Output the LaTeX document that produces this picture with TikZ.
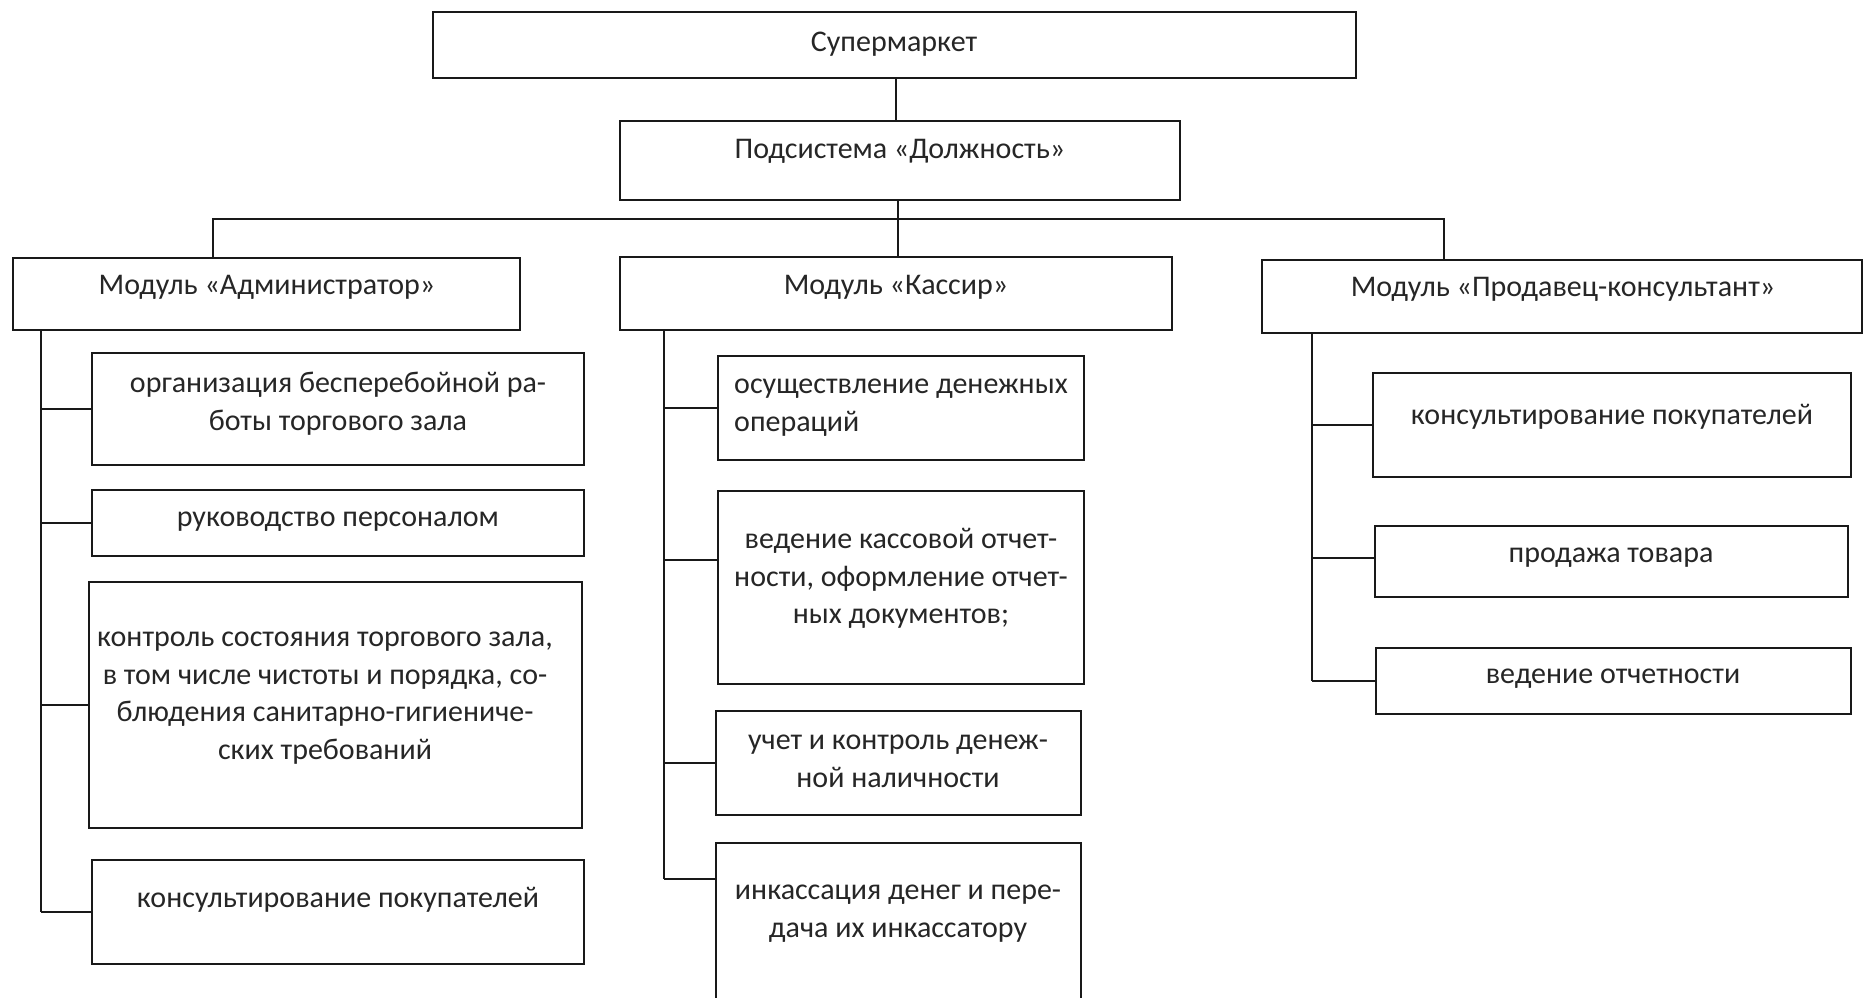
\documentclass[tikz,border=0pt]{standalone}
\usepackage{fontspec}
\setmainfont{Carlito}
\begin{document}
\begin{tikzpicture}[x=1pt,y=-1pt,
  blk/.style={draw=black!90, line width=2pt, rectangle, inner sep=0pt, fill=white},
  ln/.style={draw=black!90, line width=2pt},
  lbl/.style={font=\fontsize{30}{37.5}\selectfont, align=center, inner sep=0pt,
              text=black!85}]
% box: name, x1, y1, x2, y2 (pixels, y downwards)
\newcommand\mkbox[5]{\node[blk, minimum width={(#4-#2)*1pt}, minimum height={(#5-#3)*1pt}]
  (#1) at ({(#2+#4)/2},{(#3+#5)/2}) {};}
% label: name, centre x, x-height centre of first line, text
\newcommand\mktext[4]{\node[lbl, anchor=north] (#1) at ({#2},{#3-16.5}) {\strut#4};}

\useasboundingbox (0,0) rectangle (1865,997);
\fill[white] (0,0) rectangle (1865,997);
\begin{scope}
\clip (0,0) rectangle (1865,997);

% top levels
\mkbox{super}{433}{12}{1356}{78}
\mkbox{sub}{620}{121}{1180}{200}
\mkbox{mA}{13}{258}{520}{330}
\mkbox{mK}{620}{257}{1172}{330}
\mkbox{mP}{1262}{260}{1862}{333}

% administrator column
\mkbox{a1}{92}{353}{584}{465}
\mkbox{a2}{92}{490}{584}{556}
\mkbox{a3}{89}{582}{582}{828}
\mkbox{a4}{92}{860}{584}{964}

% cashier column
\mkbox{k1}{718}{356}{1084}{460}
\mkbox{k2}{718}{491}{1084}{684}
\mkbox{k3}{716}{711}{1081}{815}
\mkbox{k4}{716}{843}{1081}{1010}

% sales consultant column
\mkbox{p1}{1373}{373}{1851}{477}
\mkbox{p2}{1375}{526}{1848}{597}
\mkbox{p3}{1376}{648}{1851}{714}

% texts
\mktext{super-t}{894}{42}{Супермаркет}
\mktext{sub-t}{900}{149}{Подсистема «Должность»}
\mktext{mA-t}{267}{285}{Модуль «Администратор»}
\mktext{mK-t}{896}{285}{Модуль «Кассир»}
\mktext{mP-t}{1563}{287}{Модуль «Продавец-консультант»}

\mktext{a1-t}{338}{383}{организация бесперебойной ра-\\боты торгового зала}
\mktext{a2-t}{338}{517}{руководство персоналом}
\mktext{a3-t}{325}{637}{контроль состояния торгового зала,\\в том числе чистоты и порядка, со-\\блюдения санитарно-гигиениче-\\ских требований}
\mktext{a4-t}{338}{898}{консультирование покупателей}

\node[lbl, anchor=north west, align=left] (k1-t) at (734,{384-16.5})
  {\strut осуществление денежных\\операций};
\mktext{k2-t}{901}{539}{ведение кассовой отчет-\\ности, оформление отчет-\\ных документов;}
\mktext{k3-t}{898}{740}{учет и контроль денеж-\\ной наличности}
\mktext{k4-t}{898}{890}{инкассация денег и пере-\\дача их инкассатору}

\mktext{p1-t}{1612}{415}{консультирование покупателей}
\mktext{p2-t}{1611}{553}{продажа товара}
\mktext{p3-t}{1613}{674}{ведение отчетности}

% trunks and joints
\coordinate (c1) at (896,0);
\coordinate (c2) at (898,0);
\coordinate (bl) at (213,219);
\coordinate (br) at (1444,219);
\coordinate (tA) at (41,0);
\coordinate (tK) at (664,0);
\coordinate (tP) at (1312,0);
\coordinate (k2j) at (664,560);
\coordinate (k4j) at (664,879);
\coordinate (p2j) at (1312,558);

\draw[ln] (c1 |- super.south) -- (c1 |- sub.north);
\draw[ln] (c2 |- sub.south) -- (c2 |- mK.north);
\draw[ln] (bl |- mA.north) -- (bl) -- (br) -- (br |- mP.north);

% administrator branches
\draw[ln] (tA |- mA.south) -- (tA |- a4.west);
\foreach \c in {a1,a2,a3,a4} \draw[ln] (tA |- \c.west) -- (\c.west);

% cashier branches
\draw[ln] (tK |- mK.south) -- (k4j);
\draw[ln] (tK |- k1.west) -- (k1.west);
\draw[ln] (k2j) -- (k2j -| k2.west);
\draw[ln] (tK |- k3.west) -- (k3.west);
\draw[ln] (k4j) -- (k4j -| k4.west);

% sales consultant branches
\draw[ln] (tP |- mP.south) -- (tP |- p3.west);
\draw[ln] (tP |- p1.west) -- (p1.west);
\draw[ln] (p2j) -- (p2j -| p2.west);
\draw[ln] (tP |- p3.west) -- (p3.west);
\end{scope}
\end{tikzpicture}
\end{document}
